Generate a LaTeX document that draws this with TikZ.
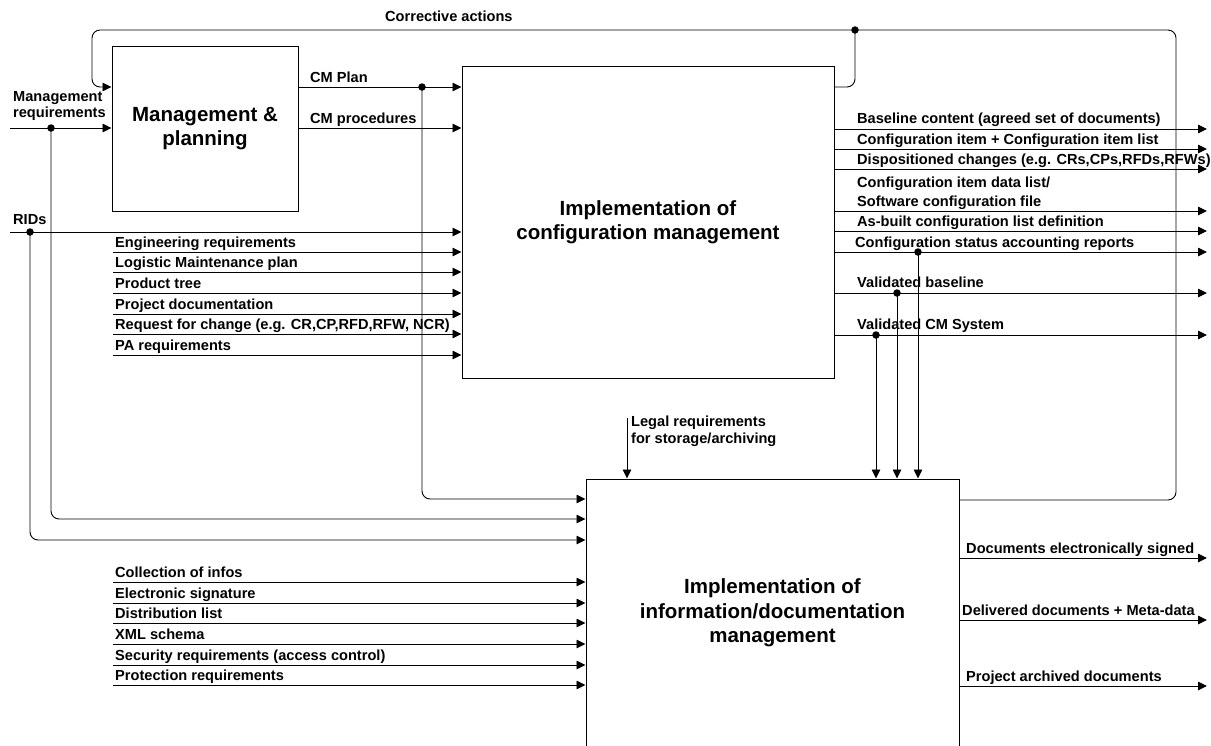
\documentclass[tikz,border=0pt]{standalone}
\usepackage{fontspec}
\setmainfont{Liberation Sans}
\usetikzlibrary{arrows.meta}
\begin{document}
\begin{tikzpicture}[x=1pt,y=-1pt,
  box/.style={draw,line width=1pt,inner sep=0pt,align=center,font=\fontsize{20.5}{24.5}\selectfont\bfseries},
  flow/.style={line width=0.9pt,-{Triangle[length=9pt,width=8.5pt]}},
  wire/.style={line width=0.9pt},
  lbl/.style={inner sep=0pt,anchor=base west,font=\fontsize{14.6}{19}\selectfont\bfseries},
  dot/.style={circle,fill,inner sep=0pt,minimum size=7.5pt},
  rc/.style={rounded corners=8pt}]
\clip (0,0) rectangle (1211,745);
\fill[white] (0,0) rectangle (1211,745);
% boxes
\node[box,minimum width=186pt,minimum height=165pt] (mgmt) at (205,128.5) {Management \&\\planning};
\node[box,minimum width=372pt,minimum height=312pt] (cfg) at (648,222) {Implementation of\\configuration management};
\node[box,minimum width=373pt,minimum height=268pt] (info) at (772.5,613) {Implementation of\\information/documentation\\management};
% free ends
\coordinate (L) at (10,0);
\coordinate (Li) at (113,0);
\coordinate (R) at (1207,0);
% dots
\node[dot] (dmr) at (51,128) {};
\node[dot] (drid) at (30,232) {};
\node[dot] (dplan) at (422,87) {};
\node[dot] (dca) at (855,30) {};
\node[dot] (dcs) at (918,252) {};
\node[dot] (dvb) at (897,293) {};
\node[dot] (dvs) at (876,335) {};
% corrective actions loop
\draw[flow,rc] (info.east |- 0,500) -- (1176,500) -- (1176,30) -- (92,30) -- (92,87) -- (mgmt.west |- 0,87);
\draw[wire,rc] (cfg.east |- 0,87) -- (855,87) -- (dca.center);
\node[lbl] (lca) at (385,21) {Corrective actions};
% management requirements
\draw[flow] (L |- dmr) -- (mgmt.west |- dmr);
\draw[flow,rc] (dmr.center) -- (51,519) -- (info.west |- 0,519);
\node[lbl,anchor=north west,align=left,font=\fontsize{14.6}{16}\selectfont\bfseries] (lmr) at (13,91.5) {Management\\requirements};
% RIDs
\draw[flow] (L |- drid) -- (cfg.west |- drid);
\draw[flow,rc] (drid.center) -- (30,540) -- (info.west |- 0,540);
\node[lbl] (lrid) at (13,224) {RIDs};
% CM plan / procedures
\draw[flow] (mgmt.east |- dplan) -- (cfg.west |- dplan);
\draw[flow,rc] (dplan.center) -- (422,499) -- (info.west |- 0,499);
\node[lbl] (lplan) at (310,82.5) {CM Plan};
\draw[flow] (mgmt.east |- 0,128) -- (cfg.west |- 0,128);
\node[lbl] (lproc) at (310,123) {CM procedures};
% inputs to configuration management
\draw[flow] (Li |- 0,252) -- (cfg.west |- 0,252);
\node[lbl] (li1) at (115,247) {Engineering requirements};
\draw[flow] (Li |- 0,272) -- (cfg.west |- 0,272);
\node[lbl] (li2) at (115,267) {Logistic Maintenance plan};
\draw[flow] (Li |- 0,293) -- (cfg.west |- 0,293);
\node[lbl] (li3) at (115,288) {Product tree};
\draw[flow] (Li |- 0,314) -- (cfg.west |- 0,314);
\node[lbl] (li4) at (115,309) {Project documentation};
\draw[flow] (Li |- 0,334) -- (cfg.west |- 0,334);
\node[lbl] (li5) at (115,329) {Request for change (e.g. CR,CP,RFD,RFW, NCR)};
\draw[flow] (Li |- 0,355) -- (cfg.west |- 0,355);
\node[lbl] (li6) at (115,350) {PA requirements};
% outputs of configuration management
\draw[flow] (cfg.east |- 0,129) -- (R |- 0,129);
\node[lbl] (lo1) at (857,123) {Baseline content (agreed set of documents)};
\draw[flow] (cfg.east |- 0,149) -- (R |- 0,149);
\node[lbl] (lo2) at (857,144) {Configuration item + Configuration item list};
\draw[flow] (cfg.east |- 0,169) -- (R |- 0,169);
\node[lbl] (lo3) at (857,164) {Dispositioned changes (e.g. CRs,CPs,RFDs,RFWs)};
\draw[flow] (cfg.east |- 0,211) -- (R |- 0,211);
\node[lbl,anchor=north west,align=left] (lo4) at (857,177) {Configuration item data list/\\Software configuration file};
\draw[flow] (cfg.east |- 0,231) -- (R |- 0,231);
\node[lbl] (lo5) at (857,226) {As-built configuration list definition};
\draw[flow] (cfg.east |- dcs) -- (R |- dcs);
\node[lbl] (lo6) at (855,247) {Configuration status accounting reports};
\draw[flow] (cfg.east |- dvb) -- (R |- dvb);
\node[lbl] (lo7) at (857,287) {Validated baseline};
\draw[flow] (cfg.east |- dvs) -- (R |- dvs);
\node[lbl] (lo8) at (857,329) {Validated CM System};
% down to information management
\draw[flow] (dvs.center) -- (dvs |- info.north);
\draw[flow] (dvb.center) -- (dvb |- info.north);
\draw[flow] (dcs.center) -- (dcs |- info.north);
\coordinate (lg) at (627,418);
\draw[flow] (lg) -- (lg |- info.north);
\node[lbl,anchor=north west,align=left,font=\fontsize{14.6}{17}\selectfont\bfseries] (llg) at (631,415.5) {Legal requirements\\for storage/archiving};
% inputs to information management
\draw[flow] (Li |- 0,582) -- (info.west |- 0,582);
\node[lbl] (lj1) at (115,577) {Collection of infos};
\draw[flow] (Li |- 0,603) -- (info.west |- 0,603);
\node[lbl] (lj2) at (115,598) {Electronic signature};
\draw[flow] (Li |- 0,623) -- (info.west |- 0,623);
\node[lbl] (lj3) at (115,618) {Distribution list};
\draw[flow] (Li |- 0,644) -- (info.west |- 0,644);
\node[lbl] (lj4) at (115,639) {XML schema};
\draw[flow] (Li |- 0,665) -- (info.west |- 0,665);
\node[lbl] (lj5) at (115,660) {Security requirements (access control)};
\draw[flow] (Li |- 0,685) -- (info.west |- 0,685);
\node[lbl] (lj6) at (115,680) {Protection requirements};
% outputs of information management
\draw[flow] (info.east |- 0,558) -- (R |- 0,558);
\node[lbl] (lp1) at (966,553) {Documents electronically signed};
\draw[flow] (info.east |- 0,620) -- (R |- 0,620);
\node[lbl] (lp2) at (962,615) {Delivered documents + Meta-data};
\draw[flow] (info.east |- 0,686) -- (R |- 0,686);
\node[lbl] (lp3) at (966,681) {Project archived documents};
\end{tikzpicture}
\end{document}
